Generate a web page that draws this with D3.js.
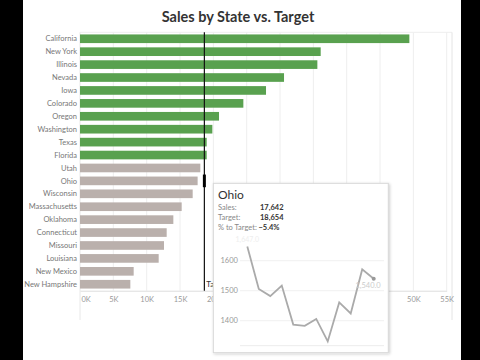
<!DOCTYPE html>
<html><head><meta charset="utf-8">
<script src="https://cdn.jsdelivr.net/npm/d3@7"></script>
<style>
html,body{margin:0;padding:0;background:#000;}
svg{display:block;}
</style></head>
<body>
<svg id="c" width="480" height="360"></svg>
<script>
const states = ["California","New York","Illinois","Nevada","Iowa","Colorado","Oregon","Washington","Texas","Florida","Utah","Ohio","Wisconsin","Massachusetts","Oklahoma","Connecticut","Missouri","Louisiana","New Mexico","New Hampshire"];
const sales = [49400,36100,35600,30600,27900,24500,20850,19850,19000,19000,18050,17642,16900,15250,14000,13000,12600,11800,8050,7550];
const targetValue = 18654;
const xTickValues = [0,5000,10000,15000,20000,25000,30000,35000,40000,45000,50000,55000];
const tipState = "Ohio";
const tipSales = 17642;
const tipTarget = 18654;
const months = ["Jan","Feb","Mar","Apr","May","Jun","Jul","Aug","Sep","Oct","Nov","Dec"];
const ohioMonthly = [1647,1506,1482,1517,1387,1383,1406,1331,1461,1424,1571,1540];
const miniTicks = [1400,1500,1600];

const svg = d3.select("#c");
svg.append("rect").attr("x",23).attr("y",0).attr("width",438).attr("height",360).attr("fill","#fff");

svg.append("text").attr("x",238).attr("y",22).attr("text-anchor","middle")
  .attr("font-family","Lato").attr("font-weight","bold").attr("font-size",14.5).attr("fill","#333")
  .text("Sales by State vs. Target");

const x = d3.scaleLinear().domain([0,55000]).range([80,446.7]);
const y = d3.scaleBand().domain(states).range([32.3,290.7]).paddingInner(0.33).paddingOuter(0.165);

// plot frame
svg.append("line").attr("x1",80).attr("x2",452).attr("y1",32.3).attr("y2",32.3).attr("stroke","#eee");
svg.append("line").attr("x1",452).attr("x2",452).attr("y1",32.3).attr("y2",320).attr("stroke","#e4e4e4");
svg.append("line").attr("x1",80).attr("x2",80).attr("y1",32.3).attr("y2",320).attr("stroke","#e8e8e8");

// gridlines
svg.append("g").selectAll("line").data(xTickValues.slice(1)).join("line")
  .attr("x1",d=>x(d)).attr("x2",d=>x(d)).attr("y1",32.3).attr("y2",290.7)
  .attr("stroke","#eeeeee").attr("stroke-width",1);

// bars
svg.append("g").selectAll("rect").data(states).join("rect")
  .attr("x",x(0)).attr("y",d=>y(d)).attr("height",y.bandwidth())
  .attr("width",(d,i)=>x(sales[i])-x(0))
  .attr("fill",(d,i)=>sales[i]>=targetValue?"#59a14f":"#bab0ac");

// state labels
svg.append("g").selectAll("text").data(states).join("text")
  .attr("x",77).attr("y",d=>y(d)+y.bandwidth()/2).attr("dy","0.35em")
  .attr("text-anchor","end").attr("font-family","Lato").attr("font-size",7.5).attr("fill","#777")
  .text(d=>d);

// axis
const xAxis = d3.axisBottom(x).tickValues(xTickValues).tickSize(0).tickPadding(6)
  .tickFormat(d=>(d/1000)+"K");
const ax = svg.append("g").attr("transform","translate(0,290.7)").call(xAxis);
ax.select(".domain").attr("stroke","#ddd");
ax.selectAll("text").attr("font-family","Lato").attr("font-size",7.5).attr("fill","#999");
ax.selectAll("text").filter(d=>d===0).attr("text-anchor","start").attr("dx",1);

// target reference line
svg.append("line").attr("x1",x(targetValue)).attr("x2",x(targetValue)).attr("y1",32.3).attr("y2",290.7)
  .attr("stroke","#111").attr("stroke-width",1.2);
svg.append("line").attr("x1",x(tipTarget)).attr("x2",x(tipTarget))
  .attr("y1",y(tipState)-2).attr("y2",y(tipState)+y.bandwidth()+2)
  .attr("stroke","#000").attr("stroke-width",3);
const defs = svg.append("defs");
defs.append("clipPath").attr("id","tclip").append("rect").attr("x",0).attr("y",0).attr("width",213).attr("height",360);
svg.append("text").attr("clip-path","url(#tclip)").attr("x",x(targetValue)+2).attr("y",y(states[states.length-1])+y.bandwidth()/2).attr("dy","0.35em")
  .attr("font-family","Lato").attr("font-size",8).attr("fill","#333").text("Target");

// tooltip
const f = defs.append("filter").attr("id","sh").attr("x","-10%").attr("y","-10%").attr("width","130%").attr("height","130%");
f.append("feDropShadow").attr("dx",1).attr("dy",1).attr("stdDeviation",1.5).attr("flood-color","#000").attr("flood-opacity",0.2);
svg.append("rect").attr("x",213.3).attr("y",183.3).attr("width",175).attr("height",169.4)
  .attr("fill","#fff").attr("stroke","#d8d8d8").attr("filter","url(#sh)");

const tip = svg.append("g").attr("font-family","Lato");
tip.append("text").attr("x",218).attr("y",198.5).attr("font-size",12).attr("fill","#333").text(tipState);
const rows = [["Sales:", d3.format(",")(tipSales)],["Target:", d3.format(",")(tipTarget)],["% to Target:", d3.format(".1%")(tipSales/tipTarget-1)]];
rows.forEach((r,i)=>{
  tip.append("text").attr("x",218).attr("y",210+i*10).attr("font-size",7.5).attr("fill","#888").text(r[0]);
  tip.append("text").attr("x",i<2?260:258.5).attr("y",210+i*10).attr("font-size",7.5).attr("font-weight","bold").attr("fill","#333").text(r[1]);
});

const mx = d3.scalePoint().domain(months).range([247.3,373.7]);
const my = d3.scaleLinear().domain([1400,1600]).range([320.7,260.7]);
tip.append("g").selectAll("line").data(miniTicks).join("line")
  .attr("x1",240).attr("x2",384).attr("y1",d=>my(d)).attr("y2",d=>my(d)).attr("stroke","#f0f0f0");
tip.append("line").attr("x1",240).attr("x2",384).attr("y1",my(1316.7)).attr("y2",my(1316.7)).attr("stroke","#ececec");
tip.append("g").selectAll("text").data(miniTicks).join("text")
  .attr("x",220.5).attr("y",d=>my(d)).attr("dy","0.35em").attr("font-size",7.5).attr("fill","#999").text(d=>d);
tip.append("path").datum(ohioMonthly)
  .attr("d",d3.line().x((d,i)=>mx(months[i])).y(d=>my(d)))
  .attr("fill","none").attr("stroke","#aaa").attr("stroke-width",1.8);
tip.append("circle").attr("cx",mx(months[11])).attr("cy",my(ohioMonthly[11])).attr("r",2).attr("fill","#999");
tip.append("text").attr("x",mx(months[11])+7).attr("y",my(ohioMonthly[11])+9).attr("text-anchor","end")
  .attr("font-size",7.5).attr("fill","#ccc").text(d3.format(",.1f")(ohioMonthly[11]));
tip.append("text").attr("x",mx(months[0])).attr("y",my(ohioMonthly[0])-5).attr("text-anchor","middle")
  .attr("font-size",7).attr("fill","#eee").text(d3.format(",.1f")(ohioMonthly[0]));
</script>
</body></html>
